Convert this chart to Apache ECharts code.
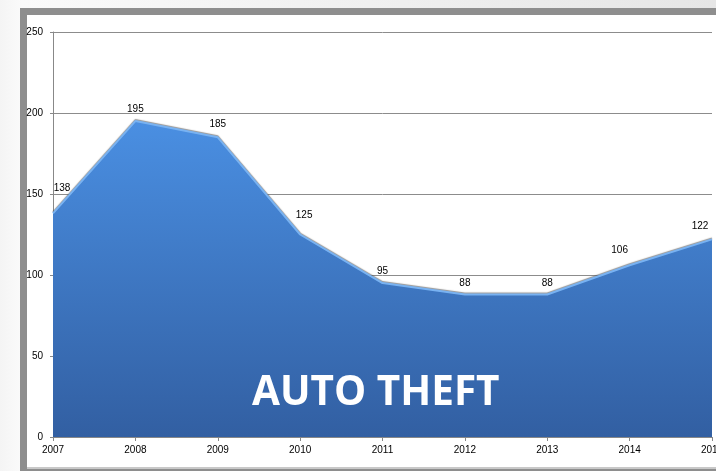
<!DOCTYPE html>
<html><head><meta charset="utf-8">
<script src="https://cdn.jsdelivr.net/npm/echarts@6/dist/echarts.min.js"></script>
<style>html,body{margin:0;padding:0;background:#fff;overflow:hidden}#c{width:716px;height:471px}</style>
</head><body><div id="c"></div>
<script>
const years = ['2007','2008','2009','2010','2011','2012','2013','2014','2015'];
const thefts = [138,195,185,125,95,88,88,106,122];
const yTicks = [0,50,100,150,200,250];
const chartTitle = 'AUTO THEFT';

const labelShift = {0:[9,-14],2:[0,-2],3:[4,-8],7:[-10,-4],8:[-12,-2]};
const chart = echarts.init(document.getElementById('c'));
const seriesData = thefts.map((v,i)=> labelShift[i] ? {value:v,label:{offset:labelShift[i]}} : v);
chart.setOption({
  animation:false,
  backgroundColor:'#ffffff',
  graphic:[
    {type:'rect',z:-10,shape:{x:0,y:0,width:716,height:471},style:{fill:new echarts.graphic.LinearGradient(0,0,1,0,[{offset:0,color:'#f4f4f4'},{offset:0.03,color:'#fafafa'},{offset:1,color:'#e6e6e6'}])},silent:true},
    {type:'rect',z:-9,shape:{x:20,y:8,width:720,height:470},style:{fill:'#8e8e8e'},silent:true},
    {type:'rect',z:-8,shape:{x:27,y:15,width:700,height:452},style:{fill:'#ffffff'},silent:true},
    {type:'rect',z:-8,shape:{x:27,y:467,width:700,height:2},style:{fill:'#c8c8c8'},silent:true},
    {type:'text',z:100,left:252,top:373,style:{text:chartTitle,fill:'#ffffff',font:'bold 40.5px "Open Sans", sans-serif'}}
  ],
  grid:{left:53,top:32,right:4,bottom:34,containLabel:false,outerBoundsMode:'none'},
  xAxis:{type:'category',data:years,boundaryGap:false,
    axisLine:{lineStyle:{color:'#888',width:1}},
    axisTick:{show:true,alignWithLabel:true,length:4,lineStyle:{color:'#888'}},
    axisLabel:{color:'#000',fontSize:10,fontFamily:'Liberation Sans',margin:8,interval:0,hideOverlap:false}},
  yAxis:{type:'value',min:0,max:250,interval:50,
    axisLine:{show:true,lineStyle:{color:'#888'}},
    axisTick:{show:true,length:3,lineStyle:{color:'#888'}},
    axisLabel:{color:'#000',fontSize:10,fontFamily:'Liberation Sans',margin:10,
      formatter:v=>yTicks.includes(v)?String(v):''},
    splitLine:{show:true,lineStyle:{color:'#8c8c8c',width:1}}},
  series:[{type:'line',data:seriesData,symbol:'circle',symbolSize:1,showSymbol:true,
    itemStyle:{color:'rgba(0,0,0,0)'},
    lineStyle:{color:'#78b2f2',width:2,shadowColor:'rgba(80,80,80,0.6)',shadowBlur:1,shadowOffsetY:-1},
    areaStyle:{opacity:1,color:new echarts.graphic.LinearGradient(0,0,0,1,[{offset:0,color:'#4a8fe2'},{offset:1,color:'#325fa2'}])},
    label:{show:true,position:'top',distance:6,color:'#000',fontSize:10,fontFamily:'Liberation Sans'}
  }]
});
</script></body></html>
